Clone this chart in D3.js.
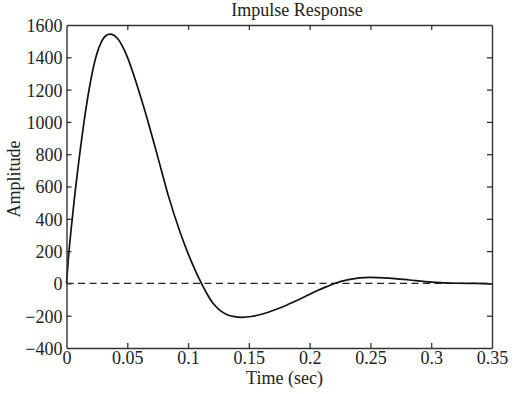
<!DOCTYPE html>
<html>
<head>
<meta charset="utf-8">
<script src="https://cdn.jsdelivr.net/npm/d3@7"></script>
<style>
  html, body { margin: 0; padding: 0; background: #fff; }
  svg { display: block; }
  text { font-family: "Liberation Serif", "Times New Roman", serif; fill: #222; }
</style>
</head>
<body>
<svg id="chart" width="515" height="394"></svg>
<script>
// ---- data ----
const timeValues = [0, 0.0015, 0.0043, 0.007, 0.0097, 0.0117, 0.0144, 0.0188, 0.0243, 0.029, 0.0325, 0.0358,
  0.039, 0.0425, 0.0495, 0.0575, 0.065, 0.075, 0.0837, 0.0933, 0.103, 0.111,
  0.116, 0.1207, 0.126, 0.1317, 0.138, 0.144, 0.152, 0.162, 0.172, 0.181, 0.19, 0.1975, 0.206, 0.214, 0.22,
  0.232, 0.2496, 0.265, 0.282, 0.295, 0.307, 0.322, 0.337, 0.35];
const amplitudeValues = [0, 150, 370, 560, 730, 850, 1000, 1210, 1405, 1500, 1535, 1544,
  1537, 1512, 1412, 1240, 1055, 785, 545, 320, 130, 0,
  -70, -125, -165, -192, -206, -210, -205, -188, -162, -135, -104, -77, -46, -20, -2,
  23, 37, 33, 21, 11, 5, 1, 0, -3];
const xTicks = [0, 0.05, 0.1, 0.15, 0.2, 0.25, 0.3, 0.35];
const xTickLabels = ["0", "0.05", "0.1", "0.15", "0.2", "0.25", "0.3", "0.35"];
const yTicks = [-400, -200, 0, 200, 400, 600, 800, 1000, 1200, 1400, 1600];
const titleText = "Impulse Response";
const xLabelText = "Time (sec)";
const yLabelText = "Amplitude";

// ---- layout ----
const L = 66.5, R = 492, T = 25, B = 348;
const svg = d3.select("#chart");
const x = d3.scaleLinear().domain([0, 0.35]).range([L, R]);
const y = d3.scaleLinear().domain([-400, 1600]).range([B, T]);
const fs = 18;
const axisColor = "#333";
const tickLen = 5;

// reference zero line (dashed)
svg.append("line")
  .attr("x1", x(0)).attr("x2", x(0.35))
  .attr("y1", y(0)).attr("y2", y(0))
  .attr("stroke", "#222").attr("stroke-width", 1.3)
  .attr("stroke-dasharray", "7,4.5");

// curve
const pts = timeValues.map((t, i) => [t, amplitudeValues[i]]);
const line = d3.line().x(d => x(d[0])).y(d => y(d[1])).curve(d3.curveMonotoneX);
svg.append("path").datum(pts)
  .attr("d", line)
  .attr("fill", "none")
  .attr("stroke", "#111")
  .attr("stroke-width", 1.7)
  .attr("stroke-linejoin", "round");

// axes (inward ticks on all sides)
const gB = svg.append("g").attr("transform", `translate(0,${B})`)
  .call(d3.axisBottom(x).tickValues(xTicks).tickFormat((d, i) => xTickLabels[i]).tickSizeInner(-tickLen).tickSizeOuter(0).tickPadding(3));
const gT = svg.append("g").attr("transform", `translate(0,${T})`)
  .call(d3.axisTop(x).tickValues(xTicks).tickFormat("").tickSizeInner(-tickLen).tickSizeOuter(0));
const gL = svg.append("g").attr("transform", `translate(${L},0)`)
  .call(d3.axisLeft(y).tickValues(yTicks).tickFormat(d => d < 0 ? "\u2212" + Math.abs(d) : String(d)).tickSizeInner(-tickLen).tickSizeOuter(0).tickPadding(4));
const gR = svg.append("g").attr("transform", `translate(${R},0)`)
  .call(d3.axisRight(y).tickValues(yTicks).tickFormat("").tickSizeInner(-tickLen).tickSizeOuter(0));

[gB, gT, gL, gR].forEach(g => {
  g.select(".domain").attr("stroke", axisColor).attr("stroke-width", 1.4);
  g.selectAll(".tick line").attr("stroke", axisColor).attr("stroke-width", 1.3);
  g.selectAll(".tick text").attr("font-size", fs).attr("font-family", "Liberation Serif, serif").attr("fill", "#222");
});
gB.selectAll(".tick text").attr("dy", "0.7em");
gL.selectAll(".tick text").attr("dy", "0.36em");
[gB, gT].forEach(g => g.selectAll(".tick").filter(d => d === 0 || d === 0.35).select("line").remove());
[gL, gR].forEach(g => g.selectAll(".tick").filter(d => d === -400 || d === 1600).select("line").remove());

// titles
svg.append("text").attr("x", 297).attr("y", 16).attr("text-anchor", "middle")
  .attr("font-size", fs).text(titleText);
svg.append("text").attr("x", 284.5).attr("y", 384).attr("text-anchor", "middle")
  .attr("font-size", fs).text(xLabelText);
svg.append("text").attr("transform", "translate(20,179) rotate(-90)").attr("text-anchor", "middle")
  .attr("font-size", fs).text(yLabelText);
</script>
</body>
</html>
